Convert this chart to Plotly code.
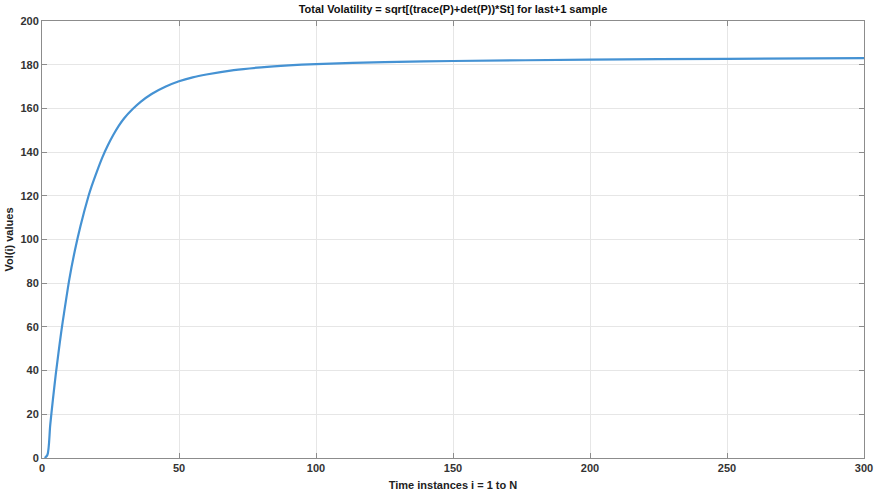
import plotly.graph_objects as go

# Sample index and total volatility readings
sample_i = [1, 2, 3, 4, 5, 6, 7, 8, 10, 12, 14, 17, 18, 20, 22, 24, 26, 28,
            30, 33, 36, 40, 45, 50, 55, 60, 70, 80, 90, 100, 125, 150, 200,
            250, 300]
vol_values = [0, 1.5, 15, 27, 38, 48, 57.5, 66, 82, 95, 106, 120, 124, 131,
              137.5, 143, 147.8, 152, 155.5, 159.6, 163, 166.6, 169.9, 172.4,
              174.2, 175.5, 177.5, 178.8, 179.7, 180.3, 181.2, 181.7, 182.3,
              182.7, 183.0]

x_ticks = [0, 50, 100, 150, 200, 250, 300]
y_ticks = [0, 20, 40, 60, 80, 100, 120, 140, 160, 180, 200]

title_text = "Total Volatility = sqrt[(trace(P)+det(P))*St] for last+1 sample"
x_title = "Time instances i = 1 to N"
y_title = "Vol(i) values"

font_family = "Liberation Sans, Arial, sans-serif"

fig = go.Figure()
fig.add_trace(go.Scatter(
    x=sample_i, y=vol_values, mode="lines",
    line=dict(color="#4592d3", width=2.2, shape="spline", smoothing=0.8),
    showlegend=False,
))

axis_common = dict(
    showline=True, linecolor="#8c8c8c", linewidth=1, mirror="ticks",
    ticks="inside", ticklen=5, tickcolor="#8c8c8c",
    showgrid=True, gridcolor="#e6e6e6", gridwidth=1,
    zeroline=False, automargin=False,
    tickfont=dict(family=font_family, size=11, color="#333333", weight="bold"),
)

fig.update_layout(
    width=882, height=495,
    margin=dict(l=42, r=18, t=21, b=37),
    paper_bgcolor="white", plot_bgcolor="white",
    title=dict(text=title_text, x=0.5, xref="paper", y=0.99, yref="container",
               yanchor="top",
               font=dict(family=font_family, size=11, color="#111111",
                         weight="bold")),
    xaxis=dict(range=[0, 300], tickvals=x_ticks,
               title=dict(text=x_title, standoff=8,
                          font=dict(family=font_family, size=11,
                                    color="#222222", weight="bold")),
               **axis_common),
    yaxis=dict(range=[0, 200], tickvals=y_ticks,
               title=dict(text=y_title, standoff=4,
                          font=dict(family=font_family, size=11,
                                    color="#222222", weight="bold")),
               **axis_common),
)

fig.write_html("out.html")
